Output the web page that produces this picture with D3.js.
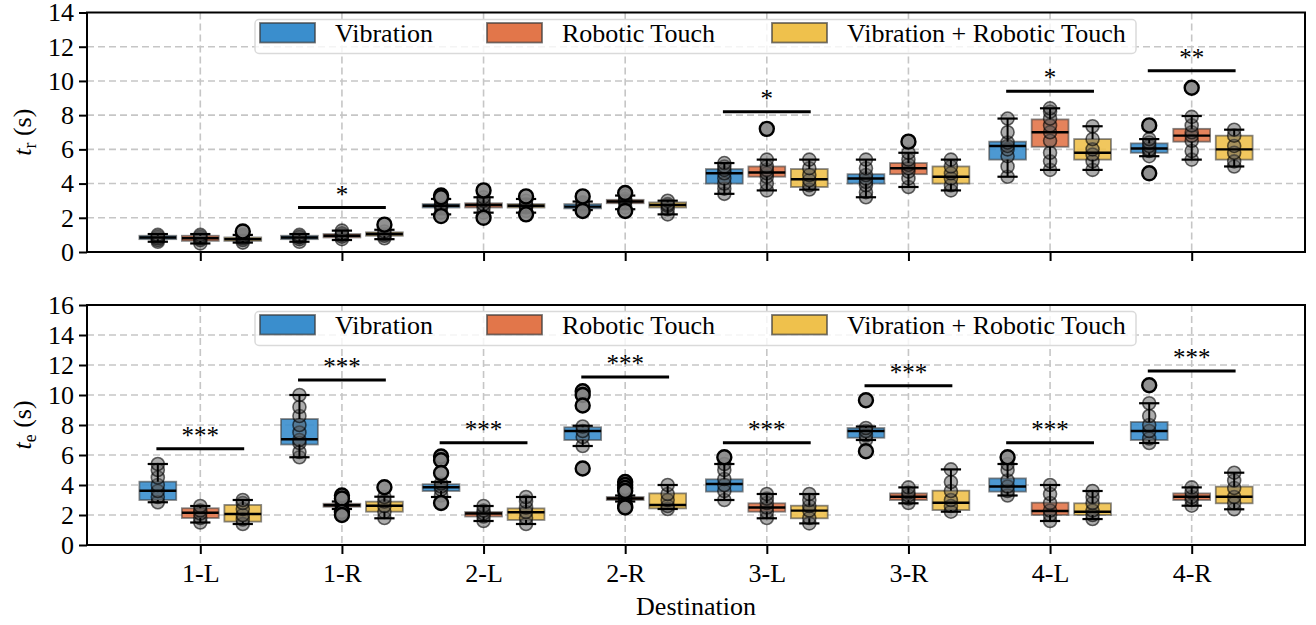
<!DOCTYPE html>
<html>
<head>
<meta charset="utf-8">
<script src="https://cdn.jsdelivr.net/npm/d3@7"></script>
<style>
  body { margin: 0; background: #fff; }
  svg { display: block; }
  svg text { font-family: "Liberation Serif", "DejaVu Serif", serif; fill: #000; }
</style>
</head>
<body>
<div id="chart"></div>
<script>
// categories and groups
const destinations = ['1-L', '1-R', '2-L', '2-R', '3-L', '3-R', '4-L', '4-R'];
const conditions = ['Vibration', 'Robotic Touch', 'Vibration + Robotic Touch'];
const colors = ['#3a8ecd', '#e2764a', '#efc14c'];

// t_r : box stats [lowWhisker, q1, median, q3, highWhisker] per destination
const trVib = [[0.6,0.75,0.85,0.95,1.05],[0.6,0.75,0.85,0.95,1.05],[2.2,2.6,2.7,2.8,3.1],[2.45,2.55,2.65,2.8,2.95],[3.4,4.0,4.6,4.85,5.2],[3.2,4.0,4.3,4.55,5.4],[4.4,5.4,6.2,6.45,7.8],[5.6,5.8,6.05,6.35,6.6]];
const trRob = [[0.5,0.65,0.8,0.95,1.05],[0.7,0.85,0.95,1.05,1.25],[2.3,2.6,2.75,2.85,3.2],[2.5,2.85,2.95,3.05,3.3],[3.6,4.4,4.65,5.0,5.4],[3.8,4.55,4.9,5.2,5.8],[4.8,6.15,7.0,7.75,8.4],[5.4,6.45,6.8,7.2,7.95]];
const trBoth = [[0.55,0.65,0.75,0.85,1.0],[0.75,0.95,1.05,1.15,1.3],[2.3,2.6,2.7,2.8,3.1],[2.2,2.6,2.75,2.9,3.0],[3.65,3.8,4.25,4.85,5.4],[3.6,4.0,4.4,5.0,5.4],[4.8,5.4,5.8,6.6,7.35],[5.0,5.4,6.0,6.8,7.15]];
// t_r : individual participants (strip points) and fliers
const trVibPts = [[0.6,0.7,0.8,0.9,1.0],[0.6,0.75,0.85,0.9,1.0],[2.3,2.6,2.7,2.8,3.0],[2.5,2.6,2.7,2.8,2.9],[3.4,3.7,4.0,4.3,4.6,4.8,5.0,5.2],[3.2,3.5,3.9,4.1,4.3,4.5,4.9,5.4],[4.4,5.0,5.6,6.0,6.2,6.4,7.0,7.8],[5.6,5.9,6.0,6.2,6.4,6.6]];
const trRobPts = [[0.5,0.7,0.8,0.9,1.0],[0.75,0.9,1.0,1.1,1.25],[2.3,2.6,2.8,3.0,3.2],[2.6,2.9,3.0,3.1,3.3],[3.6,4.0,4.4,4.6,4.8,5.0,5.4],[3.8,4.3,4.7,4.9,5.1,5.4,5.8],[4.8,5.3,5.8,6.5,7.0,7.4,7.8,8.2,8.4],[5.4,5.9,6.5,6.8,7.0,7.4,7.9]];
const trBothPts = [[0.55,0.7,0.8,0.9,1.0],[0.8,0.95,1.05,1.2],[2.4,2.6,2.7,2.8,3.0],[2.2,2.5,2.7,2.8,3.0],[3.65,3.9,4.2,4.5,4.9,5.4],[3.6,3.9,4.3,4.6,5.0,5.4],[4.8,5.3,5.7,6.0,6.6,7.35],[5.0,5.3,5.8,6.2,6.8,7.15]];
const trVibFliers = [[],[],[3.3,3.2,2.1],[3.25,2.4],[],[],[],[7.4,4.6]];
const trRobFliers = [[],[],[3.6,2.0],[3.45,2.4],[7.2],[6.45],[],[9.6]];
const trBothFliers = [[1.2],[1.6],[3.25,2.2],[],[],[],[],[]];
// t_r : significance bars [destination index, height, label]
const trSig = [[1, 2.6, '*'], [4, 8.2, '*'], [6, 9.4, '*'], [7, 10.6, '**']];

// t_e : box stats
const teVib = [[2.85,3.0,3.62,4.22,5.4],[5.85,6.7,7.05,8.4,10.0],[3.2,3.6,3.85,4.05,4.2],[6.6,7.0,7.6,7.85,7.95],[3.0,3.56,4.07,4.38,5.4],[7.0,7.15,7.6,7.8,7.9],[3.3,3.56,3.9,4.44,5.4],[6.8,7.0,7.6,8.2,9.45]];
const teRob = [[1.5,1.8,2.15,2.45,2.6],[2.4,2.55,2.65,2.75,2.9],[1.6,1.9,2.1,2.2,2.6],[2.9,3.0,3.1,3.2,3.3],[1.78,2.22,2.5,2.78,3.4],[2.78,3.0,3.22,3.44,3.84],[1.6,2.0,2.27,2.82,4.0],[2.62,3.0,3.22,3.44,3.84]];
const teBoth = [[1.4,1.56,2.07,2.67,3.0],[1.78,2.22,2.62,2.89,3.22],[1.4,1.67,2.18,2.44,3.2],[2.4,2.44,2.67,3.44,4.0],[1.44,1.78,2.29,2.62,3.4],[2.22,2.33,2.82,3.62,5.04],[1.73,2.0,2.22,2.78,3.6],[2.38,2.78,3.22,3.89,4.82]];
const teVibPts = [[2.85,3.2,3.6,4.0,4.5,5.0,5.4],[5.85,6.2,6.8,7.0,7.5,8.0,8.6,9.2,10.0],[3.3,3.7,3.9,4.1],[6.6,7.2,7.6,7.9],[3.0,3.6,4.0,4.4,5.0,5.4],[7.0,7.3,7.6,7.8],[3.3,3.6,3.9,4.3,5.0,5.4],[6.8,7.1,7.6,8.0,8.6,9.45]];
const teRobPts = [[1.5,1.8,2.1,2.3,2.6],[2.5,2.6,2.7,2.8],[1.6,1.9,2.1,2.3,2.6],[3.0,3.1,3.2],[1.8,2.2,2.5,2.8,3.1,3.4],[2.8,3.1,3.3,3.5,3.84],[1.6,2.0,2.3,2.8,3.4,4.0],[2.62,3.0,3.2,3.5,3.84]];
const teBothPts = [[1.4,1.7,2.0,2.4,2.8,3.0],[1.8,2.2,2.6,2.9,3.2],[1.4,1.8,2.2,2.5,2.9,3.2],[2.4,2.6,3.0,3.4,4.0],[1.44,1.8,2.3,2.6,3.0,3.4],[2.22,2.6,3.0,3.6,4.2,5.04],[1.73,2.0,2.3,2.8,3.2,3.6],[2.38,2.8,3.2,3.8,4.3,4.82]];
const teVibFliers = [[],[],[5.9,5.65,4.8,2.8],[10.25,10.0,9.3,5.1],[5.85],[9.65,6.25],[5.85],[10.65]];
const teRobFliers = [[],[3.3,3.1,2.2,2.0],[],[4.2,4.0,3.8,3.6,2.6,2.5],[],[],[],[]];
const teBothFliers = [[],[3.85],[],[],[],[],[],[]];
const teSig = [[0, 6.42, '***'], [1, 11.0, '***'], [2, 6.82, '***'], [3, 11.2, '***'], [4, 6.82, '***'], [5, 10.62, '***'], [6, 6.82, '***'], [7, 11.6, '***']];

const yTicksTop = [0, 2, 4, 6, 8, 10, 12, 14];
const yTicksBottom = [0, 2, 4, 6, 8, 10, 12, 14, 16];

const W = 1316, H = 625;
const svg = d3.select('#chart').append('svg').attr('width', W).attr('height', H);

const x = d3.scaleLinear().domain([-0.8, 7.8]).range([87, 1305]);
const offsets = [-0.3, 0, 0.3];
const boxW = 0.26;

function drawPanel(opts) {
    const y = d3.scaleLinear().domain(opts.domain).range(opts.range);
    const g = svg.append('g');
    const [x0, x1] = x.range();
    const [yb, yt] = opts.range;

    // grid
    g.selectAll('.hgrid').data(opts.yTicks.slice(1, -1)).enter().append('line')
        .attr('x1', x0).attr('x2', x1)
        .attr('y1', d => y(d)).attr('y2', d => y(d))
        .attr('stroke', '#c6c6c6').attr('stroke-width', 1.6).attr('stroke-dasharray', '7,4');
    g.selectAll('.vgrid').data(destinations).enter().append('line')
        .attr('x1', (d, i) => x(i)).attr('x2', (d, i) => x(i))
        .attr('y1', yt).attr('y2', yb)
        .attr('stroke', '#c6c6c6').attr('stroke-width', 1.6).attr('stroke-dasharray', '7,4');

    opts.stats.forEach((series, c) => {
        const cx = i => x(i + offsets[c]);
        const half = (x(boxW) - x(0)) / 2;
        const capHalf = half * 0.55;
        const bg = g.append('g');

        // boxes
        bg.selectAll('rect').data(series).enter().append('rect')
            .attr('x', (d, i) => cx(i) - half)
            .attr('width', half * 2)
            .attr('y', d => y(d[3]))
            .attr('height', d => Math.max(1, y(d[1]) - y(d[3])))
            .attr('fill', colors[c]).attr('fill-opacity', 0.9)
            .attr('stroke', '#3a3a3a').attr('stroke-opacity', 0.6).attr('stroke-width', 1.8);

        // strip points
        opts.points[c].forEach((pts, i) => {
            bg.selectAll(null).data(pts).enter().append('circle')
                .attr('cx', cx(i)).attr('cy', d => y(d)).attr('r', 6.5)
                .attr('fill', '#5c5c5c').attr('fill-opacity', 0.5)
                .attr('stroke', '#000').attr('stroke-opacity', 0.6).attr('stroke-width', 1.6);
        });

        // whiskers, caps, medians
        series.forEach((d, i) => {
            const px = cx(i);
            bg.append('line').attr('x1', px).attr('x2', px).attr('y1', y(d[0])).attr('y2', y(d[1]))
                .attr('stroke', '#000').attr('stroke-width', 2);
            bg.append('line').attr('x1', px).attr('x2', px).attr('y1', y(d[3])).attr('y2', y(d[4]))
                .attr('stroke', '#000').attr('stroke-width', 2);
            [d[0], d[4]].forEach(v => {
                bg.append('line').attr('x1', px - capHalf).attr('x2', px + capHalf)
                    .attr('y1', y(v)).attr('y2', y(v)).attr('stroke', '#000').attr('stroke-width', 2.2);
            });
            bg.append('line').attr('x1', px - half).attr('x2', px + half)
                .attr('y1', y(d[2])).attr('y2', y(d[2])).attr('stroke', '#000').attr('stroke-width', 2.4);
        });

        // fliers
        opts.fliers[c].forEach((fl, i) => {
            bg.selectAll(null).data(fl).enter().append('circle')
                .attr('cx', cx(i)).attr('cy', d => y(d)).attr('r', 7)
                .attr('fill', '#858585').attr('fill-opacity', 0.9)
                .attr('stroke', '#000').attr('stroke-width', 2.4);
        });
    });

    // significance bars
    opts.sig.forEach(s => {
        g.append('line')
            .attr('x1', x(s[0] - 0.31)).attr('x2', x(s[0] + 0.31))
            .attr('y1', y(s[1])).attr('y2', y(s[1]))
            .attr('stroke', '#000').attr('stroke-width', 3);
        g.append('text')
            .attr('x', x(s[0])).attr('y', y(s[1]) - 5)
            .attr('text-anchor', 'middle').attr('font-size', 25)
            .text(s[2]);
    });

    // legend
    const lg = g.append('g');
    lg.append('rect')
        .attr('x', 255).attr('y', opts.legendY).attr('width', 881).attr('height', 34)
        .attr('rx', 4).attr('fill', '#fff').attr('fill-opacity', 0.8)
        .attr('stroke', '#dadada').attr('stroke-width', 1.5);
    const lx = [260, 487, 772];
    conditions.forEach((name, c) => {
        lg.append('rect')
            .attr('x', lx[c]).attr('y', opts.legendY + 3.5).attr('width', 55).attr('height', 19.5)
            .attr('fill', colors[c]).attr('stroke', '#3a3a3a').attr('stroke-opacity', 0.7).attr('stroke-width', 1.8);
        lg.append('text')
            .attr('x', lx[c] + 75).attr('y', opts.legendY + 13).attr('dy', '0.35em')
            .attr('font-size', 26).text(name);
    });

    // axes
    const yAxis = d3.axisLeft(y).tickValues(opts.yTicks).tickSize(8).tickPadding(5);
    const ya = g.append('g').attr('transform', `translate(${x0},0)`).call(yAxis);
    ya.attr('font-family', null);
    ya.select('.domain').remove();
    ya.selectAll('line').attr('stroke-width', 2);
    ya.selectAll('text').attr('font-size', 26);

    const xAxis = d3.axisBottom(x).tickValues(d3.range(destinations.length))
        .tickFormat(i => opts.showX ? destinations[i] : '').tickSize(9).tickPadding(10);
    const xa = g.append('g').attr('transform', `translate(0,${yb})`).call(xAxis);
    xa.attr('font-family', null);
    xa.select('.domain').remove();
    xa.selectAll('line').attr('stroke-width', 2);
    xa.selectAll('text').attr('font-size', 26);

    g.append('rect').attr('x', x0).attr('y', yt).attr('width', x1 - x0).attr('height', yb - yt)
        .attr('fill', 'none').attr('stroke', '#000').attr('stroke-width', 2);

    // y label
    const lab = g.append('text')
        .attr('transform', `translate(31,${(yb + yt) / 2}) rotate(-90)`)
        .attr('text-anchor', 'middle').attr('font-size', 26);
    lab.append('tspan').attr('font-style', 'italic').text('t');
    lab.append('tspan').attr('font-size', 18).attr('dy', 5).text(opts.sub);
    lab.append('tspan').attr('dy', -5).text(' (s)');
}

drawPanel({
    domain: [0, 14], range: [252, 12.5], yTicks: yTicksTop,
    stats: [trVib, trRob, trBoth], points: [trVibPts, trRobPts, trBothPts],
    fliers: [trVibFliers, trRobFliers, trBothFliers], sig: trSig,
    legendY: 19.5, showX: false, sub: 'r'
});
drawPanel({
    domain: [0, 16], range: [545, 305], yTicks: yTicksBottom,
    stats: [teVib, teRob, teBoth], points: [teVibPts, teRobPts, teBothPts],
    fliers: [teVibFliers, teRobFliers, teBothFliers], sig: teSig,
    legendY: 311.5, showX: true, sub: 'e'
});

svg.append('text').attr('x', 696).attr('y', 615).attr('text-anchor', 'middle')
    .attr('font-size', 26).text('Destination');
</script>
</body>
</html>
